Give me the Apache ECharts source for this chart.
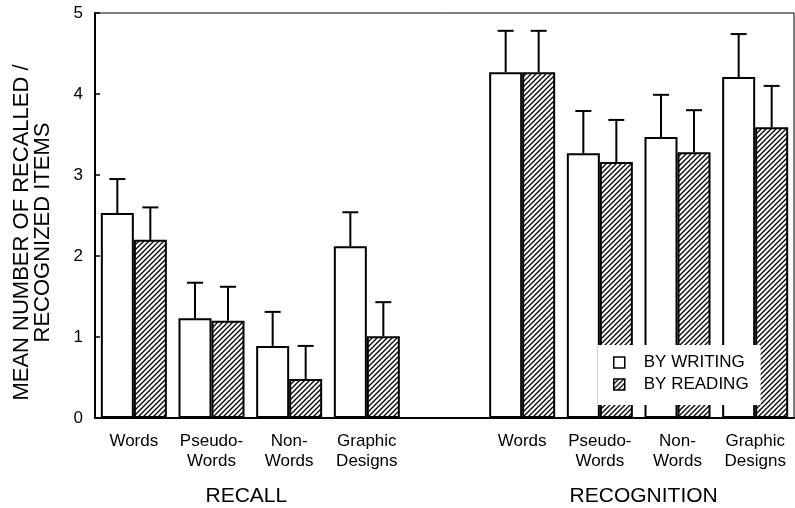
<!DOCTYPE html>
<html>
<head>
<meta charset="utf-8">
<script src="https://cdn.jsdelivr.net/npm/echarts@6/dist/echarts.min.js"></script>
<style>
  html, body { margin: 0; padding: 0; background: #fff; }
  #chart { width: 795px; height: 508px; }
</style>
</head>
<body>
<div id="chart"></div>
<script>
// ---- data ----
const categories = ['Words', 'Pseudo-\nWords', 'Non-\nWords', 'Graphic\nDesigns', '', 'Words', 'Pseudo-\nWords', 'Non-\nWords', 'Graphic\nDesigns'];
const writing    = [2.53, 1.23, 0.89, 2.12, '-', 4.27, 3.27, 3.47, 4.21];
const writingTop = [2.95, 1.67, 1.31, 2.54, '-', 4.78, 3.79, 3.99, 4.74];
const reading    = [2.20, 1.20, 0.48, 1.01, '-', 4.27, 3.16, 3.28, 3.59];
const readingTop = [2.60, 1.62, 0.89, 1.43, '-', 4.78, 3.68, 3.80, 4.10];
const seriesNames = ['BY WRITING', 'BY READING'];
const groupLabels = ['RECALL', 'RECOGNITION'];
const groupSpans = [[0, 3], [5, 8]];
const yTicks = [0, 1, 2, 3, 4, 5];
const yTitle = 'MEAN NUMBER OF RECALLED /\nRECOGNIZED ITEMS';

// ---- style ----
const FONT = "'Liberation Sans', Arial, Helvetica, sans-serif";
const BAR_W = 33;
const CAP = 16;
const GROUP_NUDGE = [-4, 5];

function hatch() {
  const s = 5;
  const c = document.createElement('canvas');
  c.width = s; c.height = s;
  const g = c.getContext('2d');
  g.fillStyle = '#fff';
  g.fillRect(0, 0, s, s);
  g.strokeStyle = '#000';
  g.lineWidth = 1.3;
  g.beginPath();
  g.moveTo(0, s); g.lineTo(s, 0);
  g.moveTo(-1, 1); g.lineTo(1, -1);
  g.moveTo(s - 1, s + 1); g.lineTo(s + 1, s - 1);
  g.stroke();
  return c;
}

function errData(mean, top) {
  const out = [];
  for (let i = 0; i < categories.length; i++) {
    if (mean[i] === '-') continue;
    out.push([i, top[i], mean[i]]);
  }
  return out;
}

function errRender(sign) {
  return function (params, api) {
    const i = api.value(0);
    const top = api.value(1);
    const mean = api.value(2);
    const p0 = api.coord([i, mean]);
    const p1 = api.coord([i, top]);
    const x = p0[0] + sign * BAR_W / 2;
    return {
      type: 'group',
      children: [
        { type: 'line', shape: { x1: x, y1: p0[1], x2: x, y2: p1[1] }, style: { stroke: '#000', lineWidth: 2 } },
        { type: 'line', shape: { x1: x - CAP / 2, y1: p1[1], x2: x + CAP / 2, y2: p1[1] }, style: { stroke: '#000', lineWidth: 2 } }
      ]
    };
  };
}

const chart = echarts.init(document.getElementById('chart'), null, { renderer: 'canvas' });
const pattern = { image: hatch(), repeat: 'repeat' };

chart.setOption({
  animation: false,
  backgroundColor: '#fff',
  textStyle: { fontFamily: FONT, color: '#000' },
  grid: {
    left: 95, right: 1, top: 13, bottom: 90,
    show: true, borderColor: '#000', borderWidth: 1, backgroundColor: 'transparent'
  },
  legend: {
    orient: 'vertical',
    left: 598, top: 345,
    padding: [9, 12, 12, 15],
    backgroundColor: '#fff',
    itemWidth: 11, itemHeight: 11,
    itemGap: 5,
    icon: 'rect',
    data: seriesNames,
    textStyle: { fontFamily: FONT, fontSize: 17, color: '#000', lineHeight: 17, padding: [0, 0, 0, 14] },
    itemStyle: { borderColor: '#000', borderWidth: 1.5 }
  },
  xAxis: {
    type: 'category',
    data: categories,
    axisLine: { lineStyle: { color: '#000', width: 2 } },
    axisTick: { show: false },
    axisLabel: { fontFamily: FONT, fontSize: 17, color: '#000', lineHeight: 20, margin: 13, interval: 0 },
    splitLine: { show: false }
  },
  yAxis: {
    type: 'value',
    min: 0, max: 5, interval: 1,
    name: yTitle,
    nameLocation: 'middle',
    nameRotate: 90,
    nameGap: 42,
    nameTextStyle: { fontFamily: FONT, fontSize: 22, color: '#000', lineHeight: 21, align: 'center', padding: [0, 34, 0, 0] },
    axisLine: { show: true, lineStyle: { color: '#000', width: 2 } },
    axisTick: { show: true, inside: true, length: 5, lineStyle: { color: '#000', width: 1.5 } },
    axisLabel: { fontFamily: FONT, fontSize: 17, color: '#000', margin: 12, formatter: function (v) { return yTicks.indexOf(v) >= 0 ? String(v) : ''; } },
    splitLine: { show: false }
  },
  series: [
    {
      name: seriesNames[0], type: 'bar', data: writing,
      barWidth: BAR_W, barGap: '0%',
      itemStyle: { color: '#fff', borderColor: '#000', borderWidth: 2 }
    },
    {
      name: seriesNames[1], type: 'bar', data: reading,
      barWidth: BAR_W, barGap: '0%',
      itemStyle: { color: pattern, borderColor: '#000', borderWidth: 2 }
    },
    {
      name: 'err1', type: 'custom', renderItem: errRender(-1),
      data: errData(writing, writingTop), encode: { x: 0, y: 1 }, z: 3, silent: true
    },
    {
      name: 'err2', type: 'custom', renderItem: errRender(1),
      data: errData(reading, readingTop), encode: { x: 0, y: 1 }, z: 3, silent: true
    }
  ]
});

// group labels centred under each group of categories
const texts = groupLabels.map(function (label, k) {
  const a = chart.convertToPixel({ xAxisIndex: 0 }, groupSpans[k][0]);
  const b = chart.convertToPixel({ xAxisIndex: 0 }, groupSpans[k][1]);
  return {
    type: 'text',
    x: (a + b) / 2 + GROUP_NUDGE[k],
    y: 486,
    style: { text: label, font: '21px ' + FONT, fill: '#000', textAlign: 'center', textVerticalAlign: 'top' }
  };
});
chart.setOption({ graphic: texts });
</script>
</body>
</html>
